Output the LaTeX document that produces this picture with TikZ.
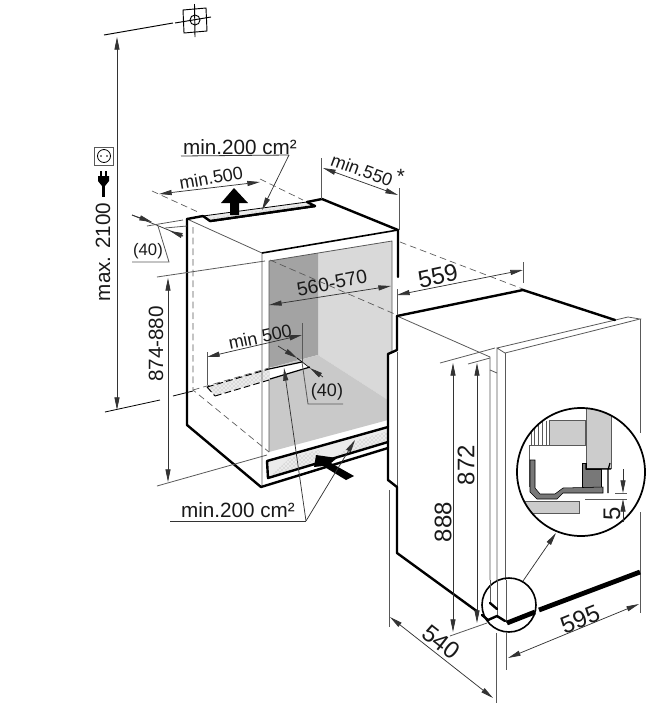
\documentclass[tikz,border=0pt]{standalone}
\usepackage{fontspec}
\setmainfont{Liberation Sans}
\usepackage{tikz}
\usetikzlibrary{patterns,arrows.meta}
\definecolor{wall dark}{gray}{0.64}
\definecolor{wall light}{gray}{0.85}
\definecolor{wall floor}{gray}{0.79}
\definecolor{vent fill}{gray}{0.92}
\definecolor{rule gray}{gray}{0.35}
\definecolor{profile gray}{gray}{0.47}
\definecolor{block gray}{gray}{0.8}
\tikzset{
	heavy/.style = {line width=1.8pt, line cap=round, line join=round},
	fine/.style = {line width=0.6pt, rule gray},
	thin dash/.style = {line width=0.5pt, rule gray, dash pattern=on 5pt off 3pt},
	dim/.style = {line width=0.55pt, black!80, {Triangle[length=9.5pt,width=3.8pt]}-{Triangle[length=9.5pt,width=3.8pt]}},
	tip/.style = {line width=0.55pt, black!80, -{Triangle[length=9.5pt,width=3.8pt]}},
	measure/.style = {font=\fontsize{15.5}{18}\selectfont, inner sep=0pt, text=black!90},
	big measure/.style = {measure, font=\fontsize{18}{20}\selectfont},
	small measure/.style = {measure, font=\fontsize{13.5}{16}\selectfont},
	dotted vent/.style = {pattern color=black!35, pattern=crosshatch dots}
}
\begin{document}
\begin{tikzpicture}[x=0.75pt, y=-0.75pt]
	\useasboundingbox (0, 0) rectangle (652, 708);
	% walls of the niche
	\fill[wall light] (318, 253) -- (392, 241) -- (392, 353) -- (388, 353) -- (388, 400) -- (318, 355) -- cycle;
	\fill[wall dark] (269, 261) -- (318, 253) -- (318, 355) -- (269, 368) -- cycle;
	\fill[wall floor] (318, 355) -- (388, 400) -- (388, 420) -- (269, 452) -- (269, 368) -- cycle;
	\draw[fine] (269, 452) -- (269, 261) -- (392, 241) -- (392, 353);
	% rear vent in the floor
	\fill[vent fill] (207, 387) -- (269, 368) -- (270, 379) -- (215, 396) -- cycle;
	\fill[dotted vent] (207, 387) -- (269, 368) -- (270, 379) -- (215, 396) -- cycle;
	\fill[white] (269, 368) -- (302, 362) -- (310, 367) -- (270, 379) -- cycle;
	\draw[line width=0.9pt] (269, 369) -- (302, 362) (270, 379) -- (310, 367);
	\draw[line width=0.7pt, dash pattern=on 5pt off 2.5pt] (207, 387) -- (269, 369) (215, 396) -- (269, 380) (207, 387) -- (215, 396);
	% bottom vent
	\fill[vent fill] (267, 461) -- (388, 427) -- (388, 442) -- (268, 478) -- cycle;
	\fill[dotted vent] (272, 475) -- (290, 458) -- (322, 449) -- (310, 467) -- cycle;
	\fill[dotted vent] (330, 461) -- (355, 441) -- (388, 431) -- (388, 440) -- cycle;
	\draw[heavy] (388, 427) -- (267, 461) -- (268, 478) -- (388, 442);
	% hidden edges of the cabinet
	\draw[thin dash] (193, 227) -- (193, 390) -- (269, 452);
	\draw[thin dash] (193, 390) -- (269, 368);
	\draw[fine] (187, 219) -- (262, 253) (262, 253) -- (262, 487);
	\draw[thin dash] (270, 260) -- (397, 315);
	\draw[thin dash] (400, 242) -- (523, 289);
	% cabinet outline
	\draw[heavy] (187, 219) -- (187, 425) -- (261, 487) -- (388, 448);
	\draw[heavy] (187, 219) -- (203, 216) (210, 221) -- (315, 206);
	\draw[heavy] (307, 202) -- (322, 199) -- (398, 230) -- (398, 277);
	\draw[line width=1.2pt] (262, 253) -- (398, 230);
	% top vent
	\fill[vent fill] (203, 216) -- (210, 221) -- (315, 206) -- (307, 202) -- cycle;
	\fill[dotted vent] (210, 218) -- (240, 214) -- (240, 216) -- (212, 220) -- cycle;
	\fill[dotted vent] (250, 212) -- (310, 204) -- (310, 206) -- (252, 214) -- cycle;
	\draw[line width=0.6pt] (203, 216) -- (307, 202);
	\draw[heavy] (203, 216) -- (210, 221) -- (315, 206) -- (307, 202);
	% fat air arrows
	\fill (234, 188) -- (248, 203) -- (239, 203) -- (239, 215) -- (230, 215) -- (230, 203) -- (221, 203) -- cycle;
	\fill (316, 455) -- (337, 458) -- (331, 463) -- (354, 476) -- (346, 480) -- (323, 466) -- (314, 467) -- cycle;
	% appliance
	\draw[fine] (397, 316) -- (490, 357) -- (490, 580);
	\draw[fine] (497, 348) -- (628, 317) -- (640, 319) -- (505, 353) -- (497, 348) -- (497, 580);
	\draw[fine] (505, 353) -- (505, 580);
	\draw[fine] (640, 319) -- (640, 433) (640, 512) -- (640, 613);
	\draw[fine] (490, 370) -- (497, 373);
	\draw[fine] (397, 352) -- (397, 487);
	\draw[fine] (389, 490) -- (389, 627);
	\draw[heavy] (397, 316) -- (523, 290) -- (615, 320);
	\draw[heavy] (397, 316) -- (397, 350) -- (388, 354) -- (388, 480) -- (397, 487) -- (397, 553) -- (478, 612);
	% small circle at the foot
	\draw[line width=1.2pt] (509, 605) circle (27);
	\draw[fine] (490, 580) -- (490, 603) (497, 580) -- (497, 618) (506, 580) -- (506, 623);
	\draw[heavy] (482, 615) -- (488, 620) -- (497, 616) -- (505, 621) (490, 603) -- (497, 609);
	\draw[line width=3.6pt] (507, 623) -- (535, 612) (539, 610) -- (640, 572);
	\draw[fine] (496, 633) -- (496, 703) (506.5, 633) -- (506.5, 670);
	% big circle
	\begin{scope}
		\clip (581, 472) circle (64);
		\fill[block gray, draw=rule gray, line width=0.4pt] (549, 420) rectangle (585, 445);
		\draw[fine, line width=0.4pt] (531, 445) -- (531, 425) (534, 445) -- (534, 425) (538, 445) -- (538, 423) (542, 445) -- (542, 421) (546, 445) -- (546, 421);
		\draw[fine, line width=0.4pt] (529, 445) -- (529, 487) (529, 445) -- (549, 445);
		\fill[block gray, draw=rule gray, line width=0.4pt] (586, 405) rectangle (611, 468);
		\fill[profile gray, draw=black, line width=0.4pt] (582, 463) -- (586, 463) -- (586, 469) -- (601, 469) -- (601, 487) -- (582, 487) -- cycle;
		\draw[line width=0.9pt] (586, 463) -- (586, 469) -- (611, 469) (610, 463) -- (608, 470) -- (608, 493);
		\fill[profile gray, draw=black, line width=0.4pt] (530, 460) -- (535, 460) -- (535, 488) -- (540, 494) -- (555, 494) -- (563, 488) -- (603, 487) -- (603, 493) -- (563, 493) -- (557, 499) -- (537, 499) -- (530, 492) -- cycle;
		\fill[block gray, draw=rule gray, line width=0.4pt] (510, 501) -- (579, 501) -- (579, 513) -- (510, 513) -- cycle;
	\end{scope}
	\draw[line width=1.3pt] (581, 472) circle (64);
	\draw[fine] (585, 499) -- (627, 499) (615, 493) -- (627, 493);
	\coordinate (five top) at (623, 469);
	\coordinate (five bot) at (623, 522);
	\draw[tip] (five top) -- (623, 493);
	\draw[tip] (five bot) -- (623, 499);
	\draw[tip] (523, 581) -- (556, 533);
	% wall socket
	\draw[line width=0.7pt] (183, 10) -- (206, 8) -- (207, 31) -- (184, 33) -- cycle;
	\draw[line width=0.7pt] (195, 20) circle (5);
	\draw[line width=0.7pt] (194.5, 4) -- (195, 37) (175, 23) -- (211, 17);
	\draw[line width=0.7pt] (104, 35) -- (173, 23);
	\draw[dim] (117, 37) -- (117, 410);
	\draw[line width=0.6pt] (105, 412) -- (160, 400) (173, 396) -- (193, 391);
	% socket and plug signs
	\draw[line width=0.7pt, rule gray] (94, 147) rectangle (113, 165);
	\draw[line width=0.6pt] (104, 156) circle (6.5);
	\fill (101, 156) circle (0.9) (107, 156) circle (0.9);
	\fill (98, 176) -- (109, 176) -- (109, 181) -- (105, 186) -- (102, 186) -- (98, 181) -- cycle;
	\draw[line width=1pt] (101, 171) -- (101, 176) (106, 171) -- (106, 176);
	\draw[line width=1.8pt] (103.5, 184) -- (103.5, 197);
	\node[measure, rotate=90] (label max) at (103, 252) {max. 2100};
	% top dimensions
	\node[measure, anchor=south] (label top area) at (240, 155) {min.200 cm²};
	\draw[fine, black!80] (181, 156) -- (289, 155);
	\draw[tip] (289, 155) -- (262, 210);
	\node[small measure, rotate=10] (label top depth) at (211, 178) {min.500};
	\draw[dim] (159, 194) -- (260, 182);
	\draw[thin dash] (152, 191) -- (198, 212) (260, 179) -- (303, 200);
	\node[small measure, rotate=-20] (label rear depth) at (362, 170) {min.550};
	\node[measure] (label star) at (401, 176) {*};
	\draw[dim] (323, 168) -- (398, 195);
	\draw[fine] (321.7, 158) -- (321.7, 199) (399, 188) -- (399, 230);
	% gap at the top rear
	\draw[line width=0.55pt, black!80] (132, 215) -- (183, 236);
	\draw[tip] (132, 215) -- (152, 222);
	\draw[tip] (183, 236) -- (170, 231);
	\draw[fine] (147, 226) -- (183, 220) (165, 228) -- (187, 226);
	\draw[fine] (158, 226) -- (169, 262) -- (132, 262);
	\node[font=\fontsize{12.5}{15}\selectfont, inner sep=0pt, text=black!90] (label top gap) at (148, 251) {(40)};
	% niche dimensions
	\node[measure, font=\fontsize{14.5}{17}\selectfont, rotate=11] (label width) at (332, 283) {560-570};
	\draw[dim] (269, 305) -- (391, 286);
	\node[small measure, rotate=12] (label floor depth) at (260, 337) {min 500};
	\draw[dim] (207, 357) -- (302, 335);
	\draw[fine] (207, 352) -- (207, 385) (302, 323) -- (302, 363);
	\draw[tip] (278, 346) -- (297, 358);
	\draw[tip] (323, 377) -- (310, 368);
	\draw[line width=0.5pt] (297, 358) -- (310, 368);
	\draw[fine] (302, 362) -- (308, 404) -- (343, 404);
	\node[small measure] (label floor gap) at (327, 392) {(40)};
	% height of the niche
	\draw[dim] (168, 278) -- (168, 482);
	\draw[fine] (157, 277) -- (265, 261) (157, 486) -- (267, 455);
	\node[measure, rotate=90] (label height) at (156, 344) {874-880};
	% lower vents
	\node[measure, anchor=south] (label low area) at (238, 518) {min.200 cm²};
	\draw[fine, black!80] (170, 521) -- (306, 521);
	\draw[tip] (306, 521) -- (284, 368);
	\draw[tip] (306, 521) -- (355, 440);
	% appliance dimensions
	\node[big measure, rotate=12] (label depth) at (438, 276) {559};
	\draw[dim] (397, 295) -- (523, 270);
	\draw[fine] (397, 289) -- (397, 315) (523, 262) -- (523, 283);
	\draw[dim] (453, 363) -- (453, 632);
	\draw[dim] (477, 363) -- (477, 623);
	\draw[fine] (440, 363) -- (495, 348) (468, 364) -- (490, 358) (450, 636) -- (487, 623);
	\node[big measure, rotate=90] (label tall) at (443, 522) {888};
	\node[big measure, rotate=90] (label short) at (466, 465) {872};
	\node[big measure, rotate=90] (label five) at (612, 514) {5};
	\draw[dim] (390, 617) -- (493, 698);
	\node[big measure, rotate=-38] (label side) at (441, 642) {540};
	\draw[dim] (508, 658) -- (639, 604);
	\node[big measure, rotate=22] (label front) at (580, 619) {595};
\end{tikzpicture}
\end{document}
